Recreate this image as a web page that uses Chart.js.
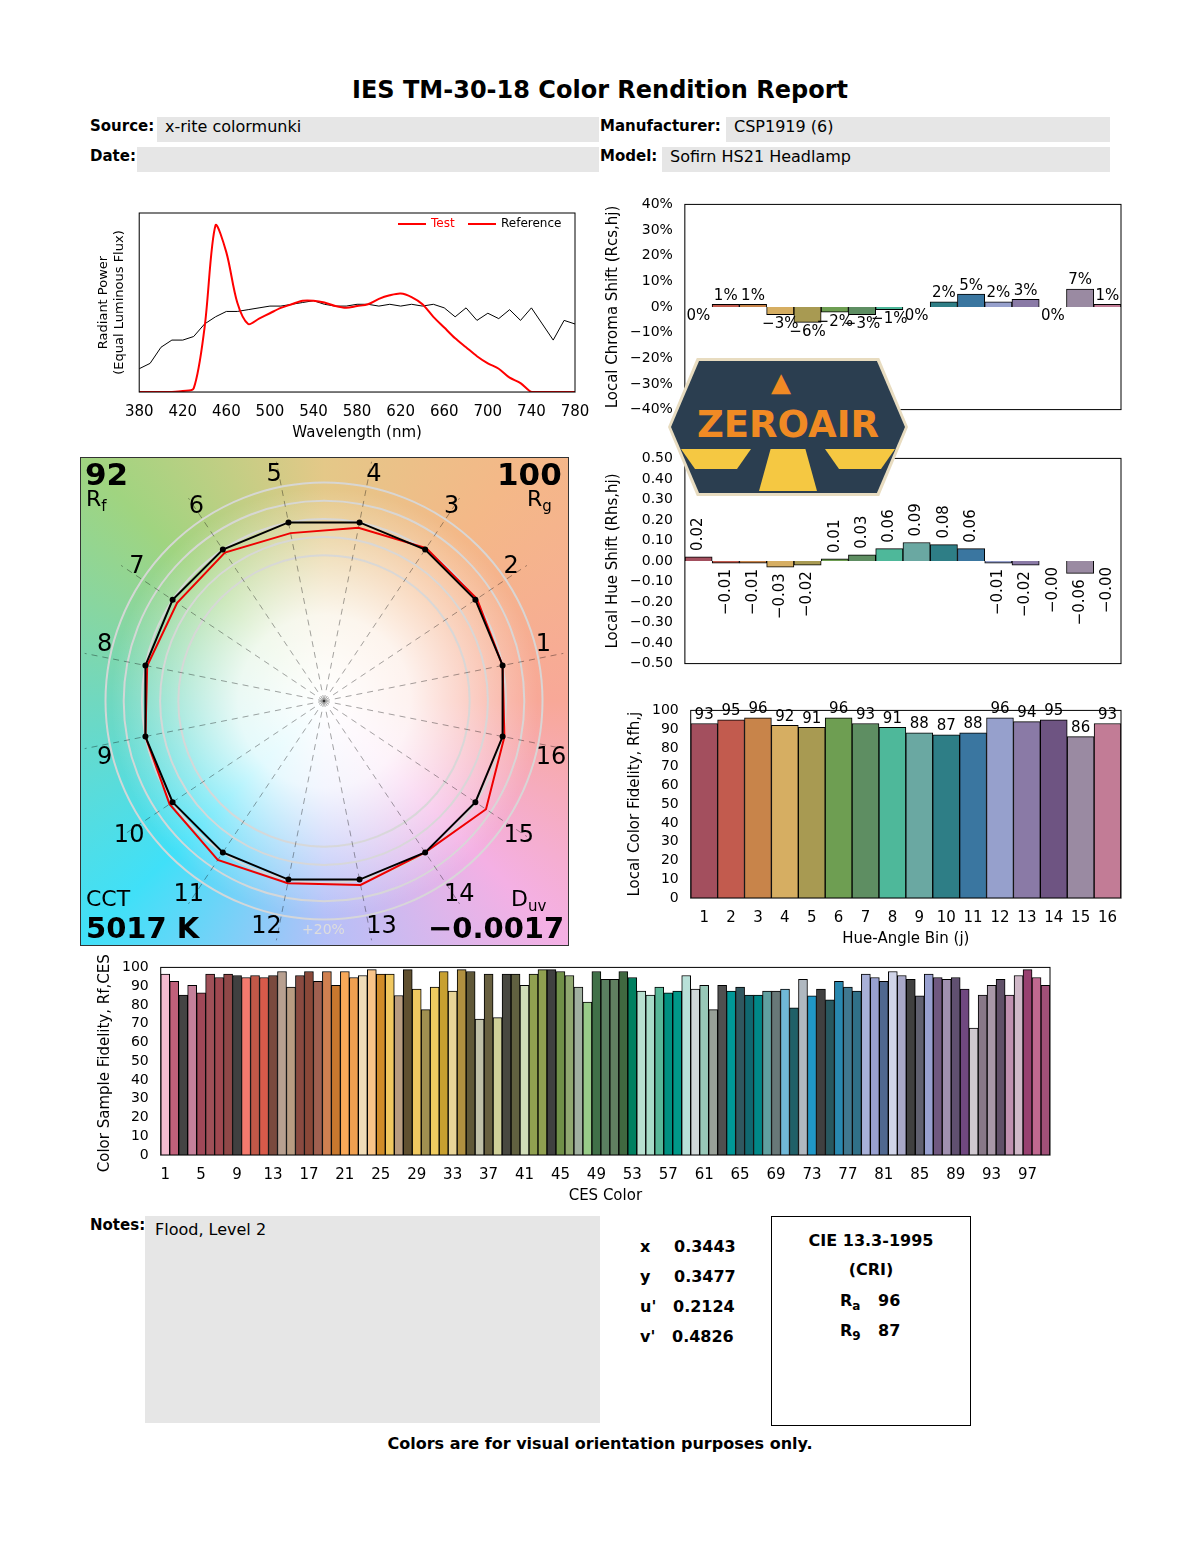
<!DOCTYPE html>
<html>
<head>
<meta charset="utf-8">
<script src="https://cdn.jsdelivr.net/npm/chart.js@4/dist/chart.umd.min.js"></script>
<style>
  body { margin: 0; width: 1200px; height: 1550px; background: #fff; font-family: "DejaVu Sans", sans-serif; position: relative; }
  .abs { position: absolute; }
  .lbl { font-weight: bold; font-size: 15px; }
  .fld { background: #e6e6e6; font-size: 16px; padding: 0 8px; height: 25px; line-height: 20px; }
  canvas { position: absolute; }
</style>
</head>
<body>
<div class="abs" style="left:0;width:1200px;top:76px;text-align:center;font-size:24px;font-weight:bold;">IES TM-30-18 Color Rendition Report</div>
<div class="abs lbl" style="left:90px;top:117px;">Source:</div>
<div class="abs fld" style="left:157px;top:117px;width:426px;">x-rite colormunki</div>
<div class="abs lbl" style="left:90px;top:147px;">Date:</div>
<div class="abs fld" style="left:137px;top:147px;width:446px;"></div>
<div class="abs lbl" style="left:600px;top:117px;">Manufacturer:</div>
<div class="abs fld" style="left:726px;top:117px;width:368px;">CSP1919 (6)</div>
<div class="abs lbl" style="left:600px;top:147px;">Model:</div>
<div class="abs fld" style="left:662px;top:147px;width:432px;">Sofirn HS21 Headlamp</div>

<canvas id="spec" width="510" height="235" style="left:92px;top:207px;"></canvas>
<div class="abs" style="left:398px;top:216px;font-size:12px;color:#f00;"><span style="display:inline-block;width:28px;border-top:2px solid #f00;vertical-align:middle;margin-right:5px;"></span>Test</div>
<div class="abs" style="left:468px;top:216px;font-size:12px;"><span style="display:inline-block;width:28px;border-top:2px solid #f00;vertical-align:middle;margin-right:5px;"></span>Reference</div>
<canvas id="chroma" width="535" height="230" style="left:600px;top:192px;"></canvas>
<canvas id="hue" width="535" height="230" style="left:600px;top:446px;"></canvas>
<canvas id="fid" width="513" height="250" style="left:622px;top:698px;"></canvas>

<div id="vecbg" class="abs" style="left:80px;top:457px;width:489px;height:489px;border:1px solid #333;box-sizing:border-box;
  background: radial-gradient(circle at 50% 50%, rgba(255,255,255,1) 0%, rgba(255,255,255,0.85) 25%, rgba(255,255,255,0) 62%),
  conic-gradient(from 0deg, #e4c888 0deg, #f4b888 40deg, #f8a898 90deg, #f4b0e4 135deg, #b4c0f8 180deg, #40e0f8 225deg, #70d8c0 270deg, #a0d480 315deg, #e4c888 360deg);"></div>
<canvas id="vec" width="489" height="489" style="left:80px;top:457px;"></canvas>
<div class="abs" style="left:85px;top:456px;font-size:31px;font-weight:bold;">92</div>
<div class="abs" style="left:86px;top:486px;font-size:22px;">R<sub style="font-size:15px">f</sub></div>
<div class="abs" style="left:497px;top:456px;font-size:31px;font-weight:bold;">100</div>
<div class="abs" style="left:527px;top:486px;font-size:22px;">R<sub style="font-size:15px">g</sub></div>
<div class="abs" style="left:86px;top:886px;font-size:22px;">CCT</div>
<div class="abs" style="left:86px;top:911px;font-size:29px;font-weight:bold;">5017 K</div>
<div class="abs" style="left:511px;top:886px;font-size:22px;">D<sub style="font-size:15px">uv</sub></div>
<div class="abs" style="left:428px;top:911px;font-size:29px;font-weight:bold;">&minus;0.0017</div>
<div class="abs" style="left:302px;top:921px;font-size:14px;color:#ddd;">+20%</div>

<canvas id="ces" width="968" height="250" style="left:92px;top:955px;"></canvas>

<div class="abs lbl" style="left:90px;top:1216px;">Notes:</div>
<div class="abs" style="left:145px;top:1216px;width:455px;height:207px;background:#e6e6e6;font-size:16px;padding:4px 10px;box-sizing:border-box;">Flood, Level 2</div>
<div class="abs" style="left:640px;top:1232px;font-size:16px;font-weight:bold;line-height:30px;">
  <div>x<span style="position:absolute;left:34px">0.3443</span></div>
  <div>y<span style="position:absolute;left:34px">0.3477</span></div>
  <div>u'<span style="position:absolute;left:33px">0.2124</span></div>
  <div>v'<span style="position:absolute;left:32px">0.4826</span></div>
</div>
<div class="abs" style="left:771px;top:1216px;width:198px;height:208px;border:1px solid #000;font-size:16px;font-weight:bold;">
  <div style="text-align:center;margin-top:14px;">CIE 13.3-1995</div>
  <div style="text-align:center;margin-top:10px;">(CRI)</div>
  <div style="position:absolute;left:68px;top:74px;">R<sub style="font-size:12px">a</sub><span style="position:absolute;left:38px;top:0">96</span></div>
  <div style="position:absolute;left:68px;top:104px;">R<sub style="font-size:12px">9</sub><span style="position:absolute;left:38px;top:0">87</span></div>
</div>
<div class="abs" style="left:0;width:1200px;top:1434px;text-align:center;font-size:16px;font-weight:bold;">Colors are for visual orientation purposes only.</div>

<div class="abs" style="left:668px;top:358px;width:240px;height:138px;background:#e8dcc0;clip-path:polygon(12% 0,88% 0,100% 50%,88% 100%,12% 100%,0 50%);"></div>
<div class="abs" style="left:671px;top:361px;width:234px;height:132px;background:#2b3e50;clip-path:polygon(12% 0,88% 0,100% 50%,88% 100%,12% 100%,0 50%);">
  <div style="position:absolute;left:0;width:100%;top:42px;text-align:center;color:#f08a24;font-size:37px;font-weight:bold;">ZEROAIR</div>
  <div style="position:absolute;left:100px;top:6px;color:#f08a24;font-size:26px;font-weight:bold;">&#9650;</div>
  <div style="position:absolute;left:10px;top:88px;width:70px;height:20px;background:#f5c842;clip-path:polygon(0 0,100% 0,80% 100%,20% 100%);"></div>
  <div style="position:absolute;left:154px;top:88px;width:70px;height:20px;background:#f5c842;clip-path:polygon(0 0,100% 0,80% 100%,20% 100%);"></div>
  <div style="position:absolute;left:88px;top:88px;width:58px;height:42px;background:#f5c842;clip-path:polygon(20% 0,80% 0,100% 100%,0 100%);"></div>
</div>

<script>
// ---- data ----
const wavelengths = [380,390,400,410,420,430,440,450,460,470,480,490,500,510,520,530,540,550,560,570,580,590,600,610,620,630,640,650,660,670,680,690,700,710,720,730,740,750,760,770,780]
const testSpd = [0,0,0,0,0.005,0.02,0.36,0.93,0.78,0.5,0.38,0.41,0.44,0.47,0.49,0.51,0.51,0.5,0.48,0.47,0.48,0.49,0.52,0.54,0.55,0.53,0.49,0.42,0.36,0.3,0.25,0.2,0.16,0.13,0.08,0.05,0,0,0,0,0]
const refSpd = [0.13,0.16,0.25,0.29,0.29,0.31,0.38,0.42,0.45,0.45,0.46,0.47,0.48,0.48,0.49,0.5,0.51,0.49,0.48,0.48,0.49,0.49,0.48,0.49,0.48,0.49,0.48,0.49,0.47,0.42,0.47,0.4,0.44,0.41,0.46,0.4,0.47,0.38,0.29,0.4,0.38]

const hueBins = ['1','2','3','4','5','6','7','8','9','10','11','12','13','14','15','16']
const binColors = ['#a34f5e','#c25b4e','#c8844a','#d6ae62','#a89a52','#6e9e52','#5e8e62','#4eb89a','#6aa8a2','#2e7e86','#3a76a0','#96a0cc','#8a7aa6','#6e5482','#9a8aa2','#c27c96']
const chromaShift = [0,1,1,-3,-6,-2,-3,-1,0,2,5,2,3,0,7,1]
const hueShift = [0.02,-0.01,-0.01,-0.03,-0.02,0.01,0.03,0.06,0.09,0.08,0.06,-0.01,-0.02,-0.00,-0.06,-0.00]
const localFidelity = [93,95,96,92,91,96,93,91,88,87,88,96,94,95,86,93]

const cesValues = [96.5,92.6,85.3,90.5,86.4,96.5,94.6,96.5,95.7,94.6,95.7,94.6,95.7,97.8,89.5,95.7,97.8,92.6,97.8,90.5,
  97.8,94.6,95.7,98.8,96.5,96.5,85,98.8,88.4,77.5,89.5,97.8,87.4,98.8,97.8,72.4,96.5,73.2,96.5,96.5,
  90.5,96.5,98.8,98.8,97.8,95.7,89.5,81.5,97.8,93.6,93.6,97.8,94.6,87.4,85.3,89.5,86.4,87.4,95.7,88.4,
  90.5,77.5,90.5,87.4,89.5,85.3,85.3,87.4,87.4,88.4,78.4,93.6,84.8,88.4,82.7,92.6,89.5,87.4,96.5,94.6,
  92.6,97.8,95.7,93.6,84.8,96.5,94.6,93.6,94.6,88.4,67.7,85.3,90.5,93.6,85.3,95.7,98.8,94.6,90.5]
const cesColors = ['#f4bcd0','#c0607a','#444444','#c5809a','#a04858','#a05058','#a04850','#904848','#404040','#f57a6e',
  '#c05848','#d85a4a','#7a4a3e','#b8a090','#b89c82','#8a4a40','#8a4838','#a06050','#d08050','#c8782e',
  '#f8a858','#f0a050','#f0dcb8','#f8c488','#d08c28','#f0c860','#b89c80','#605030','#f0c860','#a09050',
  '#f0cc60','#c8a030','#e8d498','#b09040','#605838','#c0c0a8','#686040','#d0d098','#484840','#606040',
  '#d0dcb8','#90a050','#90a050','#404040','#709048','#90a870','#a0b0a0','#98cc88','#407048','#5a8060',
  '#608060','#406840','#008060','#b8e0d0','#a8dcc8','#58b898','#009080','#009888','#b8e0d8','#d0d8d8',
  '#98c8b8','#98a098','#505050','#009898','#305860','#106870','#008888','#60a0a0','#687878','#70b8d8',
  '#206068','#b0b8c0','#2098c8','#404040','#285860','#2888b0','#407890','#307088','#a8b0d8','#98a0d0',
  '#506890','#d0d4e8','#a8a8c8','#404040','#606070','#98a0d0','#705880','#a090b0','#605070','#704880',
  '#d0c8d0','#887888','#a898a8','#605068','#c090b0','#d0b8c8','#984070','#c06890','#a05078']
const cesLabels = cesValues.map((v, i) => String(i + 1))

const FONT = 'DejaVu Sans'
Chart.defaults.font.family = FONT
Chart.defaults.font.size = 15
Chart.defaults.color = '#000'
Chart.defaults.animation = false
Chart.defaults.responsive = false
Chart.defaults.plugins.legend.display = false
Chart.defaults.plugins.tooltip.enabled = false

// box around the plot area
const frame = {
  id: 'frame',
  afterDraw(chart) {
    const { ctx, chartArea: a } = chart
    ctx.save()
    ctx.strokeStyle = '#000'
    ctx.lineWidth = 1
    ctx.strokeRect(a.left, a.top, a.right - a.left, a.bottom - a.top)
    ctx.restore()
  }
}

// value labels on bars
const valueLabels = {
  id: 'valueLabels',
  afterDatasetsDraw(chart, args, opts) {
    if (!opts.fmt) return
    const { ctx } = chart
    const meta = chart.getDatasetMeta(0)
    ctx.save()
    ctx.font = '15px ' + FONT
    ctx.fillStyle = '#000'
    meta.data.forEach((bar, i) => {
      const v = chart.data.datasets[0].data[i]
      const txt = opts.fmt(v)
      const up = opts.upIf(v)
      if (opts.rotate) {
        ctx.save()
        ctx.translate(bar.x, up ? bar.y - 6 : bar.y + 6)
        ctx.rotate(-Math.PI / 2)
        ctx.textAlign = up ? 'left' : 'right'
        ctx.textBaseline = 'middle'
        ctx.fillText(txt, 0, 0)
        ctx.restore()
      } else {
        ctx.textAlign = 'center'
        ctx.textBaseline = up ? 'bottom' : 'top'
        ctx.fillText(txt, bar.x, up ? bar.y - 1 : bar.y + 2)
      }
    })
    ctx.restore()
  }
}

const minus = s => s.replace('-', '\u2212')
const yTicks = step => ({ stepSize: step, autoSkip: false, font: { size: 14 }, padding: 4 })

new Chart(document.getElementById('spec'), {
  type: 'line',
  data: {
    labels: wavelengths,
    datasets: [
      { label: 'Test', data: testSpd, borderColor: '#f00', borderWidth: 2, pointRadius: 0, tension: 0.3 },
      { label: 'Reference', data: refSpd, borderColor: '#000', borderWidth: 1, pointRadius: 0 }
    ]
  },
  options: {
    layout: { padding: { right: 27, top: 6 } },
    scales: {
      x: { type: 'linear', min: 380, max: 780, grid: { display: false },
        ticks: { stepSize: 40, maxRotation: 0 }, title: { display: true, text: 'Wavelength (nm)', padding: 0 } },
      y: { min: 0, max: 1, grid: { display: false }, ticks: { display: false },
        title: { display: true, text: ['Radiant Power', '(Equal Luminous Flux)'], font: { size: 13 } } }
    }
  },
  plugins: [frame]
})

new Chart(document.getElementById('chroma'), {
  type: 'bar',
  data: { labels: hueBins, datasets: [{ data: chromaShift, backgroundColor: binColors, borderColor: '#000', borderWidth: 1, categoryPercentage: 1, barPercentage: 1 }] },
  options: {
    layout: { padding: { right: 14, top: 10 } },
    plugins: { valueLabels: { fmt: v => minus(v + '%'), upIf: v => v > 0 } },
    scales: {
      x: { grid: { display: false }, ticks: { display: false } },
      y: { min: -40, max: 40, grid: { display: false }, ticks: { ...yTicks(10), callback: v => minus(v + '%') },
        title: { display: true, text: 'Local Chroma Shift (Rcs,hj)' } }
    }
  },
  plugins: [frame, valueLabels]
})

new Chart(document.getElementById('hue'), {
  type: 'bar',
  data: { labels: hueBins, datasets: [{ data: hueShift, backgroundColor: binColors, borderColor: '#000', borderWidth: 1, categoryPercentage: 1, barPercentage: 1 }] },
  options: {
    layout: { padding: { right: 14, top: 10 } },
    plugins: { valueLabels: { rotate: true, fmt: v => (v < 0 || Object.is(v, -0) ? '\u2212' : '') + Math.abs(v).toFixed(2), upIf: v => v > 0 } },
    scales: {
      x: { grid: { display: false }, ticks: { display: false } },
      y: { min: -0.5, max: 0.5, grid: { display: false }, ticks: { ...yTicks(0.1), callback: v => minus(v.toFixed(2)) },
        title: { display: true, text: 'Local Hue Shift (Rhs,hj)' } }
    }
  },
  plugins: [frame, valueLabels]
})

new Chart(document.getElementById('fid'), {
  type: 'bar',
  data: { labels: hueBins, datasets: [{ data: localFidelity, backgroundColor: binColors, borderColor: '#000', borderWidth: 1, categoryPercentage: 1, barPercentage: 1 }] },
  options: {
    layout: { padding: { right: 14, top: 10 } },
    plugins: { valueLabels: { fmt: v => String(v), upIf: () => true } },
    scales: {
      x: { grid: { display: false }, ticks: { maxRotation: 0 }, title: { display: true, text: 'Hue-Angle Bin (j)', padding: 0 } },
      y: { min: 0, max: 100, grid: { display: false }, ticks: yTicks(10),
        title: { display: true, text: 'Local Color Fidelity, Rfh,j' } }
    }
  },
  plugins: [frame, valueLabels]
})

new Chart(document.getElementById('ces'), {
  type: 'bar',
  data: { labels: cesLabels, datasets: [{ data: cesValues, backgroundColor: cesColors, borderColor: '#000', borderWidth: 1, categoryPercentage: 1, barPercentage: 1 }] },
  options: {
    layout: { padding: { right: 10, top: 10 } },
    scales: {
      x: { grid: { display: false }, ticks: { autoSkip: false, maxRotation: 0, callback: (v, i) => i % 4 === 0 ? cesLabels[i] : '' },
        title: { display: true, text: 'CES Color', padding: 0 } },
      y: { min: 0, max: 100, grid: { display: false }, ticks: yTicks(10),
        title: { display: true, text: 'Color Sample Fidelity, Rf,CESi' } }
    }
  },
  plugins: [frame]
})

// vector graphic: bins ordered clockwise starting at bin 1
const vecOrder = [0,15,14,13,12,11,10,9,8,7,6,5,4,3,2,1]
const refRadius = hueBins.map(() => 1)
const testRadius = chromaShift.map(c => 1 + c / 100)
new Chart(document.getElementById('vec'), {
  type: 'radar',
  data: {
    labels: vecOrder.map(i => hueBins[i]),
    datasets: [
      { data: vecOrder.map(i => refRadius[i]), borderColor: '#000', borderWidth: 2, pointRadius: 2, pointBackgroundColor: '#000', fill: false },
      { data: vecOrder.map(i => testRadius[i]), borderColor: '#e00', borderWidth: 2, pointRadius: 0, fill: false }
    ]
  },
  options: {
    layout: { padding: 0 },
    scales: {
      r: { min: 0, max: 1.34, startAngle: 78.75,
        ticks: { display: false, stepSize: 0.1 },
        grid: { circular: true, color: c => (c.tick && c.tick.value >= 0.75 && c.tick.value <= 1.25) ? 'rgba(215,215,215,0.95)' : 'rgba(0,0,0,0)', lineWidth: 2 },
        angleLines: { color: 'rgba(0,0,0,0.45)', borderDash: [6, 5], lineWidth: 0.8 },
        pointLabels: { font: { size: 24 }, color: '#000', padding: -28 }
      }
    }
  }
})
</script>
</body>
</html>
